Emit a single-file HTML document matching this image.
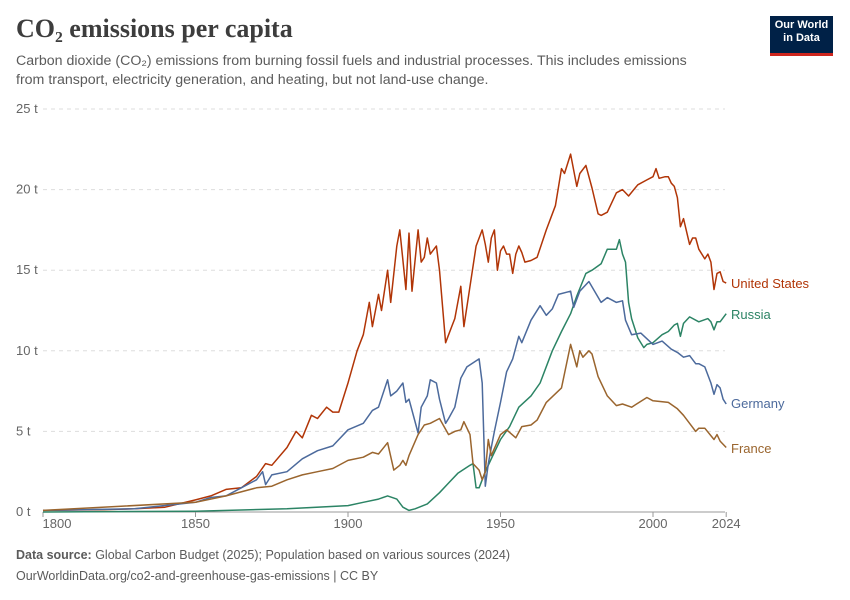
<!DOCTYPE html>
<html><head><meta charset="utf-8"><style>
body{margin:0;width:850px;height:600px;background:#fff;font-family:"Liberation Sans",sans-serif;position:relative;overflow:hidden}
.t{position:absolute}
</style></head><body>
<div class="t" style="left:16px;top:14px;font-family:'Liberation Serif',serif;font-size:26px;font-weight:bold;color:#3d3d3d">CO₂ emissions per capita</div>
<div class="t" style="left:16px;top:52px;font-size:14.2px;line-height:19px;color:#5b5b5b;width:800px;white-space:nowrap">Carbon dioxide (CO₂) emissions from burning fossil fuels and industrial processes. This includes emissions<br>from transport, electricity generation, and heating, but not land-use change.</div>
<div class="t" style="left:770px;top:16px;width:63px;height:34px;background:#002147;border-bottom:3px solid #ce261e;color:#fff;font-size:11px;font-weight:bold;text-align:center;line-height:13px;padding-top:3px;box-sizing:content-box">Our World<br>in Data</div>
<svg class="t" style="left:0;top:0" width="850" height="600" id="chart"></svg>
<div class="t" style="left:16px;top:548px;font-size:12.5px;color:#5b5b5b"><b>Data source:</b> Global Carbon Budget (2025); Population based on various sources (2024)</div>
<div class="t" style="left:16px;top:569px;font-size:12.5px;color:#5b5b5b">OurWorldinData.org/co2-and-greenhouse-gas-emissions | CC BY</div>
<script>
const yTicks=[0,5,10,15,20,25];
const xTicks=[1800,1850,1900,1950,2000,2024];
const usYears=[1800,1820,1830,1840,1850,1855,1860,1865,1870,1873,1875,1880,1883,1885,1888,1890,1893,1895,1897,1900,1903,1905,1907,1908,1910,1911,1913,1914,1916,1917,1919,1920,1921,1923,1924,1925,1926,1927,1929,1930,1932,1934,1935,1937,1938,1940,1942,1944,1945,1946,1947,1948,1949,1950,1951,1952,1953,1954,1955,1956,1957,1958,1960,1962,1965,1968,1970,1971,1973,1975,1976,1978,1980,1982,1983,1985,1988,1990,1992,1995,1998,2000,2001,2002,2004,2005,2006,2007,2008,2009,2010,2012,2013,2014,2015,2017,2018,2019,2020,2021,2022,2023,2024];
const usValues=[0.1,0.15,0.2,0.3,0.75,1.0,1.4,1.5,2.2,3.0,2.9,4.0,5.0,4.6,6.0,5.8,6.5,6.2,6.2,8.0,10.0,11.0,13.0,11.5,13.5,12.5,15.0,13.0,16.5,17.5,13.8,17.3,13.7,17.5,15.5,15.8,17.0,16.0,16.5,15.0,10.5,11.5,12.0,14.0,11.5,14.0,16.5,17.5,16.6,15.5,17.0,17.5,15.0,16.2,16.5,16.0,16.0,14.8,16.0,16.5,16.1,15.5,15.6,15.8,17.5,19.0,21.3,21.0,22.2,20.2,21.0,21.5,20.1,18.5,18.4,18.6,19.8,20.0,19.6,20.3,20.6,20.8,21.3,20.7,20.8,20.8,20.4,20.2,19.5,17.7,18.2,16.6,17.0,17.0,16.3,15.7,16.0,15.5,13.8,14.8,14.9,14.3,14.2];
const deYears=[1800,1830,1850,1855,1860,1865,1870,1872,1873,1875,1880,1885,1890,1895,1900,1905,1908,1910,1913,1914,1916,1918,1919,1920,1923,1924,1926,1927,1929,1930,1932,1933,1935,1937,1939,1943,1944,1945,1946,1947,1948,1950,1952,1954,1956,1957,1960,1963,1965,1967,1969,1973,1974,1976,1979,1983,1985,1988,1990,1991,1993,1996,2000,2003,2006,2008,2010,2012,2014,2015,2017,2019,2020,2021,2022,2023,2024];
const deValues=[0.1,0.2,0.6,0.9,1.0,1.5,2.0,2.5,1.7,2.3,2.5,3.3,3.8,4.1,5.1,5.5,6.3,6.5,8.2,7.2,7.5,8.0,6.8,7.0,4.9,6.5,7.2,8.2,8.0,7.0,5.5,5.8,6.5,8.3,9.0,9.5,8.0,1.6,3.0,4.0,5.0,6.8,8.7,9.5,10.9,10.5,11.9,12.8,12.2,12.6,13.5,13.7,12.7,13.7,14.3,13.0,13.3,13.0,13.1,11.9,11.0,11.1,10.4,10.6,10.1,9.9,9.6,9.7,9.2,9.2,9.0,8.0,7.3,7.9,7.7,7.0,6.7];
const frYears=[1800,1850,1860,1870,1875,1880,1885,1890,1895,1900,1905,1908,1910,1913,1915,1917,1918,1919,1920,1923,1925,1927,1930,1933,1935,1937,1938,1940,1941,1943,1944,1945,1946,1947,1950,1952,1955,1957,1960,1962,1965,1970,1973,1975,1976,1977,1979,1980,1982,1985,1988,1990,1993,1998,2000,2005,2008,2010,2014,2015,2017,2020,2021,2022,2024];
const frValues=[0.1,0.6,1.0,1.5,1.6,2.0,2.3,2.5,2.7,3.2,3.4,3.7,3.6,4.3,2.6,2.9,3.2,2.9,3.5,4.8,5.4,5.5,5.8,4.8,5.0,5.1,5.6,4.8,3.0,2.6,2.0,2.5,4.5,3.5,4.8,5.1,4.6,5.3,5.4,5.7,6.8,7.7,10.4,9.0,10.0,9.6,10.0,9.8,8.4,7.2,6.6,6.7,6.5,7.1,6.9,6.8,6.4,6.0,5.0,5.2,5.2,4.5,4.8,4.4,4.0];
const ruYears=[1800,1850,1880,1900,1905,1910,1913,1916,1918,1920,1922,1926,1930,1933,1936,1940,1941,1942,1943,1944,1945,1947,1950,1953,1956,1960,1963,1967,1970,1973,1975,1978,1980,1983,1985,1988,1989,1990,1991,1992,1993,1995,1997,1998,2000,2003,2005,2007,2008,2009,2010,2012,2015,2018,2019,2020,2021,2022,2024];
const ruValues=[0,0.05,0.2,0.4,0.6,0.8,1.0,0.8,0.3,0.1,0.2,0.5,1.2,1.8,2.4,2.9,3.0,1.5,1.5,2.0,2.5,3.3,4.5,5.3,6.5,7.2,8.0,10.0,11.2,12.3,13.4,14.8,15.0,15.4,16.3,16.3,16.9,16.0,15.5,13.0,12.0,10.8,10.2,10.4,10.5,11.0,11.2,11.6,11.7,10.9,11.7,12.1,11.8,12.0,11.8,11.3,11.8,11.8,12.3];
const NS="http://www.w3.org/2000/svg";
const svg=document.getElementById('chart');
const x=yr=>43+(yr-1800)*3.05;
const y=v=>512-v*16.12;
function mk(t,a){const e=document.createElementNS(NS,t);for(const k in a)e.setAttribute(k,a[k]);svg.appendChild(e);return e;}
yTicks.forEach(v=>{
 if(v>0){const g=mk('line',{x1:43,x2:725,y1:y(v),y2:y(v),stroke:'#ddd','stroke-dasharray':'4,4'});
 
 }
 const t=mk('text',{x:16,y:y(v)+4,'font-size':13,fill:'#666','font-family':'Liberation Sans'});t.textContent=v+' t';
 
 
});
const ax=mk('line',{x1:43,x2:725,y1:512,y2:512,stroke:'#999'});


xTicks.forEach(yr=>{
 const tk=mk('line',{x1:x(yr),x2:x(yr),y1:512,y2:517,stroke:'#999'});
 
 
 const lx=yr===1800?57:x(yr);
 const t=mk('text',{x:lx,y:528,'font-size':13,fill:'#666','text-anchor':'middle','font-family':'Liberation Sans'});t.textContent=yr;
 
 
});
const series=[['united-states',usYears,usValues,'#b13507','United States'],['russia',ruYears,ruValues,'#2c8465','Russia'],['germany',deYears,deValues,'#4c6a9c','Germany'],['france',frYears,frValues,'#9a652e','France']];
const labelY={'united-states':288,'russia':319,'germany':408,'france':453};
series.forEach(([n,ys,vs,c,lab])=>{
 const p=mk('path',{d:ys.map((yr,i)=>(i?'L':'M')+x(yr).toFixed(1)+','+y(vs[i]).toFixed(1)).join(''),fill:'none',stroke:c,'stroke-width':1.5,'stroke-linejoin':'round'});
 
 
 const t=mk('text',{x:731,y:labelY[n],'font-size':13,fill:c,'font-family':'Liberation Sans'});t.textContent=lab;
 
 
});
</script>
</body></html>
